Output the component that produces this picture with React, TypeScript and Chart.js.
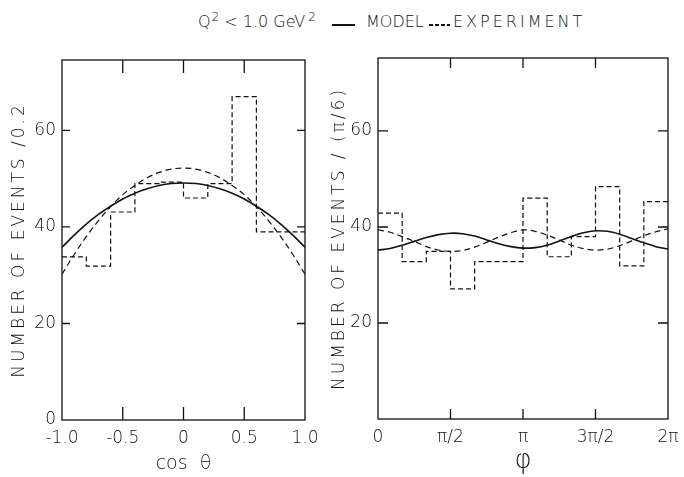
import React, { useEffect, useRef } from 'react';
import { Chart, registerables } from 'chart.js';
Chart.register(...registerables);

const FAMILY = '"DejaVu Sans", "Liberation Sans", sans-serif';
const INK = '#111';

// ---------- Left panel: cos(theta) ----------
const cosEdges = [-1.0, -0.8, -0.6, -0.4, -0.2, 0.0, 0.2, 0.4, 0.6, 0.8, 1.0];
const cosCounts = [33.8, 31.9, 43.1, 49.0, 49.3, 46.0, 49.0, 67.0, 39.0, 39.0];
const cosX = [-1.0, -0.9, -0.8, -0.7, -0.6, -0.5, -0.4, -0.3, -0.2, -0.1, 0.0, 0.1, 0.2, 0.3, 0.4, 0.5, 0.6, 0.7, 0.8, 0.9, 1.0];
const cosModel = [35.8, 38.3, 40.6, 42.6, 44.3, 45.8, 47.0, 47.9, 48.6, 49.0, 49.1, 49.0, 48.6, 47.9, 47.0, 45.8, 44.3, 42.6, 40.6, 38.3, 35.8];
const cosFit = [30.2, 34.3, 38.0, 41.3, 44.2, 46.7, 48.6, 50.2, 51.3, 52.0, 52.2, 52.0, 51.3, 50.2, 48.6, 46.7, 44.2, 41.3, 38.0, 34.3, 30.2];
const cosTickValues = [-1.0, -0.5, 0, 0.5, 1.0];
const cosTickLabels = ['-1.0', '-0.5', '0', '0.5', '1.0'];
const cosInnerTicks = [-0.5, 0, 0.5];
const leftCountTicks = [0, 20, 40, 60];

// ---------- Right panel: phi (degrees on the axis, labelled in pi) ----------
const phiEdges = [0, 30, 60, 90, 120, 150, 180, 210, 240, 270, 300, 330, 360];
const phiCounts = [42.9, 32.8, 34.9, 27.1, 32.8, 32.8, 46.0, 33.8, 38.0, 48.4, 31.9, 45.3];
const phiX = [0, 15, 30, 45, 60, 75, 90, 105, 120, 135, 150, 165, 180, 195, 210, 225, 240, 255, 270, 285, 300, 315, 330, 345, 360];
const phiModel = [35.2, 35.5, 36.2, 37.0, 37.8, 38.4, 38.7, 38.6, 38.1, 37.3, 36.5, 35.9, 35.6, 35.7, 36.2, 37.1, 38.0, 38.8, 39.2, 39.1, 38.5, 37.6, 36.7, 35.9, 35.4];
const phiFit = [39.4, 38.9, 38.0, 37.0, 35.9, 35.2, 34.9, 35.1, 35.8, 36.8, 37.9, 38.8, 39.4, 39.1, 38.3, 37.3, 36.2, 35.5, 35.2, 35.4, 36.1, 37.1, 38.2, 39.0, 39.6];
const phiTickValues = [0, 90, 180, 270, 360];
const phiTickLabels = ['0', 'π/2', 'π', '3π/2', '2π'];
const phiInnerTicks = [90, 180, 270];
const rightCountTicks = [20, 40, 60];
const innerCountTicks = [20, 40, 60];

const histPoints = (edges: number[], counts: number[]) =>
  edges.map((e, i) => ({ x: e, y: counts[Math.min(i, counts.length - 1)] }));
const curvePoints = (xs: number[], ys: number[]) => xs.map((x, i) => ({ x, y: ys[i] }));

const framePlugin = {
  id: 'frame',
  beforeDraw(chart: any) {
    Object.values(chart.scales).forEach((s: any) => {
      if (s.__spaced) return;
      const orig = s.drawTitle.bind(s);
      s.drawTitle = () => {
        const ctx = chart.ctx;
        ctx.save();
        (ctx as any).letterSpacing = s.options.title.letterSpacing || '0px';
        orig();
        ctx.restore();
      };
      s.__spaced = true;
    });
  },
  afterDatasetsDraw(chart: any, _args: any, opts: any) {
    const { ctx, chartArea: a, scales } = chart;
    ctx.save();
    ctx.strokeStyle = INK;
    ctx.lineWidth = 1.3;
    ctx.strokeRect(a.left, a.top, a.right - a.left, a.bottom - a.top);
    ctx.beginPath();
    for (const v of opts.xTicks) {
      const px = scales.x.getPixelForValue(v);
      ctx.moveTo(px, a.bottom);
      ctx.lineTo(px, a.bottom - opts.xLen);
      ctx.moveTo(px, a.top);
      ctx.lineTo(px, a.top + opts.xLen);
    }
    for (const v of opts.yTicks) {
      const py = scales.y.getPixelForValue(v);
      ctx.moveTo(a.left, py);
      ctx.lineTo(a.left + opts.yLen, py);
      ctx.moveTo(a.right, py);
      ctx.lineTo(a.right - opts.yLen, py);
    }
    ctx.stroke();
    ctx.restore();
  },
};

type PanelCfg = {
  hist: { x: number; y: number }[];
  model: { x: number; y: number }[];
  fit: { x: number; y: number }[];
  xMin: number; xMax: number; yMax: number;
  xTicks: number[]; xLabels: string[]; yTicks: number[];
  xInner: number[]; yInner: number[]; xLen: number; yLen: number;
  xTitle: string; xTitleSize: number; xTitlePad: number;
  yTitle: string; yTitlePad: number;
  padTop: number; padRight: number; yWidth: number; xHeight: number;
};

function makeConfig(p: PanelCfg): any {
  const tickFont = { family: FAMILY, size: 17, weight: '200' };
  return {
    type: 'line',
    data: {
      datasets: [
        {
          data: p.hist, stepped: 'before', borderColor: INK, borderWidth: 1.2,
          borderDash: [5, 3], pointRadius: 0, fill: false,
        },
        {
          data: p.fit, borderColor: INK, borderWidth: 1.2, borderDash: [6, 4],
          pointRadius: 0, tension: 0.35, fill: false,
        },
        {
          data: p.model, borderColor: INK, borderWidth: 1.6,
          pointRadius: 0, tension: 0.35, fill: false,
        },
      ],
    },
    options: {
      responsive: false,
      animation: false,
      events: [],
      layout: { padding: { top: p.padTop, right: p.padRight, left: 0, bottom: 0 } },
      plugins: {
        legend: { display: false },
        tooltip: { enabled: false },
        frame: { xTicks: p.xInner, yTicks: p.yInner, xLen: p.xLen, yLen: p.yLen },
      },
      scales: {
        x: {
          type: 'linear', min: p.xMin, max: p.xMax, bounds: 'data',
          afterBuildTicks: (s: any) => { s.ticks = p.xTicks.map((v) => ({ value: v })); },
          afterFit: (s: any) => { s.height = p.xHeight; s.paddingLeft = 0; s.paddingRight = 0; },
          grid: { display: false, drawTicks: false },
          border: { display: false },
          ticks: {
            padding: 8, font: tickFont, color: INK, maxRotation: 0, autoSkip: false,
            callback: (v: number) => p.xLabels[p.xTicks.indexOf(v)] ?? '',
          },
          title: {
            display: true, text: p.xTitle, color: INK,
            font: { family: FAMILY, size: p.xTitleSize, weight: '200' },
            padding: { top: 0, bottom: p.xTitlePad },
          },
        },
        y: {
          type: 'linear', min: 0, max: p.yMax, bounds: 'data',
          afterBuildTicks: (s: any) => { s.ticks = p.yTicks.map((v) => ({ value: v })); },
          afterFit: (s: any) => { s.width = p.yWidth; s.paddingTop = 0; s.paddingBottom = 0; },
          grid: { display: false, drawTicks: false },
          border: { display: false },
          ticks: { padding: 6, font: tickFont, color: INK, autoSkip: false, callback: (v: number) => String(v) },
          title: {
            display: true, text: p.yTitle, color: INK, letterSpacing: '3px',
            font: { family: FAMILY, size: 17, weight: '200' },
            padding: { top: p.yTitlePad, bottom: 0 },
          },
        },
      },
    },
    plugins: [framePlugin],
  };
}

function Panel({ cfg, left, width }: { cfg: PanelCfg; left: number; width: number }) {
  const ref = useRef<HTMLCanvasElement>(null);
  useEffect(() => {
    if (!ref.current) return;
    const chart = new Chart(ref.current, makeConfig(cfg));
    return () => chart.destroy();
  }, []);
  return (
    <canvas
      ref={ref}
      width={width}
      height={477}
      style={{ position: 'absolute', left, top: 0, width, height: 477 }}
    />
  );
}

const leftCfg: PanelCfg = {
  hist: histPoints(cosEdges, cosCounts),
  model: curvePoints(cosX, cosModel),
  fit: curvePoints(cosX, cosFit),
  xMin: -1, xMax: 1, yMax: 74.6,
  xTicks: cosTickValues, xLabels: cosTickLabels, yTicks: leftCountTicks,
  xInner: cosInnerTicks, yInner: innerCountTicks, xLen: 13, yLen: 8,
  xTitle: 'cos  θ', xTitleSize: 19, xTitlePad: 2,
  yTitle: 'NUMBER OF EVENTS /0.2', yTitlePad: 9,
  padTop: 60, padRight: 35, yWidth: 62, xHeight: 57,
};

const rightCfg: PanelCfg = {
  hist: histPoints(phiEdges, phiCounts),
  model: curvePoints(phiX, phiModel),
  fit: curvePoints(phiX, phiFit),
  xMin: 0, xMax: 360, yMax: 75.2,
  xTicks: phiTickValues, xLabels: phiTickLabels, yTicks: rightCountTicks,
  xInner: phiInnerTicks, yInner: innerCountTicks, xLen: 10, yLen: 10,
  xTitle: 'φ', xTitleSize: 26, xTitlePad: 0,
  yTitle: 'NUMBER OF EVENTS / (π/6)', yTitlePad: 19,
  padTop: 58, padRight: 16, yWidth: 68, xHeight: 58,
};

const txt: React.CSSProperties = {
  position: 'absolute', top: 12, fontFamily: FAMILY, fontSize: 16, fontWeight: 200,
  lineHeight: '20px', color: INK, whiteSpace: 'nowrap',
};
const sup: React.CSSProperties = { fontSize: 12, position: 'relative', top: -6, marginLeft: 1 };

export default function App() {
  return (
    <div style={{ position: 'absolute', left: 0, top: 0, width: 684, height: 477, background: '#fff' }}>
      <span style={{ ...txt, left: 198 }}>Q<span style={sup}>2</span> &lt; 1.0 GeV<span style={{ ...sup, marginLeft: 3 }}>2</span></span>
      <div style={{ position: 'absolute', left: 332, top: 24, width: 23, height: 1.5, background: INK }} />
      <span style={{ ...txt, left: 366 }}>MODEL</span>
      <div
        style={{
          position: 'absolute', left: 429, top: 24, width: 21, height: 1.5,
          background: `repeating-linear-gradient(to right, ${INK} 0 4px, transparent 4px 6px)`,
        }}
      />
      <span style={{ ...txt, left: 453, letterSpacing: 3 }}>EXPERIMENT</span>
      <Panel cfg={leftCfg} left={0} width={340} />
      <Panel cfg={rightCfg} left={310} width={374} />
    </div>
  );
}
